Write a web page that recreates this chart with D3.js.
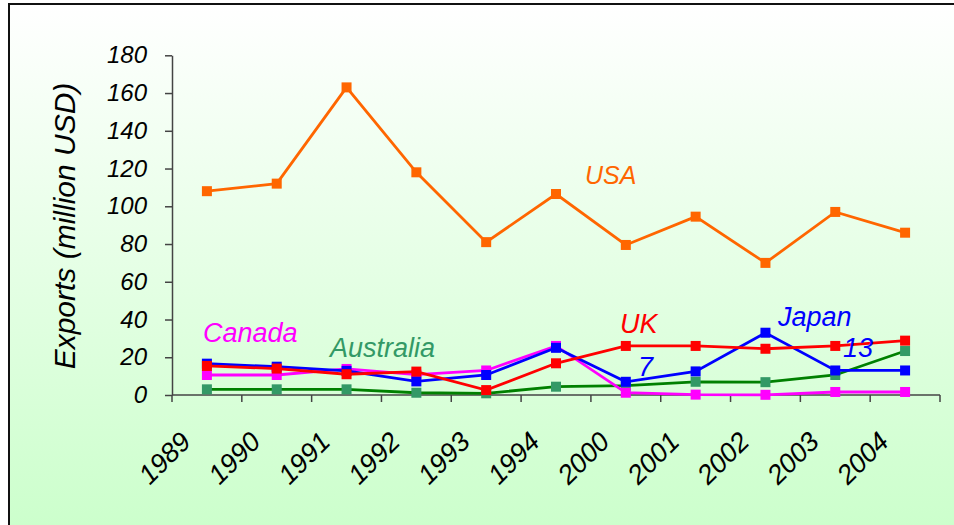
<!DOCTYPE html>
<html>
<head>
<meta charset="utf-8">
<script src="https://cdn.jsdelivr.net/npm/d3@7"></script>
<style>
  body { margin: 0; background: #fff; }
  text { font-family: "Liberation Sans", Arial, sans-serif; font-style: italic; }
</style>
</head>
<body>
<svg id="chart"></svg>
<script>
"use strict";

/*
*  DATA
*/

var years = ["1989", "1990", "1991", "1992", "1993", "1994", "2000", "2001", "2002", "2003", "2004"];
var yTicks = [0, 20, 40, 60, 80, 100, 120, 140, 160, 180];

var usa       = [108, 112, 163, 118, 81, 106.5, 79.5, 94.5, 70, 97, 86];
var uk        = [15.4, 14, 11, 12.4, 2.6, 16.8, 26, 26, 24.5, 26, 28.8];
var japan     = [16.6, 15, 12.8, 7.2, 10.6, 25, 7, 12.5, 33, 13, 13];
var canada    = [10.6, 10.6, 13.8, 10.8, 13, 26, 1.2, 0.2, 0.1, 1.6, 1.6];
var australia = [3, 3, 3, 1.2, 0.9, 4.4, 5, 7, 6.8, 10.6, 23.3];

var seriesNames = ["Australia", "Canada", "Japan", "UK", "USA"];
var seriesValues = [australia, canada, japan, uk, usa];
var lineColors = ["#008000", "#FF00FF", "#0000FF", "#FF0000", "#FF6600"];
var markColors = ["#339966", "#FF00FF", "#0000FF", "#FF0000", "#FF6600"];

// data labels shown on the Japan series
var japanLabelYears = ["2000", "2003"];

/*
*  DRAW
*/

var width = 954,
    height = 525;

var svg = d3.select("#chart").attr("width", width).attr("height", height);

var grad = svg.append("defs").append("linearGradient").attr("id", "bg")
  .attr("x1", 0).attr("y1", 0).attr("x2", 0).attr("y2", 1);
grad.append("stop").attr("offset", "0%").attr("stop-color", "#ffffff");
grad.append("stop").attr("offset", "100%").attr("stop-color", "#ccffcc");

svg.append("rect")
  .attr("x", 9).attr("y", 4).attr("width", width - 9).attr("height", height - 4)
  .attr("fill", "url(#bg)");

// frame, only top and left edges are inside the picture
svg.append("path")
  .attr("d", "M9," + height + "V4H" + width)
  .attr("fill", "none").attr("stroke", "#111").attr("stroke-width", 2);

var x = d3.scaleBand().domain(years).range([172, 940]);
var y = d3.scaleLinear().domain([0, 180]).range([395, 55.3]);

// Y AXIS
var yAxis = svg.append("g").attr("transform", "translate(172,0)")
  .call(d3.axisLeft(y).tickValues(yTicks).tickSize(7).tickSizeOuter(0).tickPadding(18));
yAxis.select(".domain").attr("stroke", "#444").attr("stroke-width", 1.5);
yAxis.selectAll(".tick line").attr("stroke", "#444").attr("stroke-width", 1.5);
yAxis.selectAll(".tick text")
  .attr("font-size", 24).attr("fill", "#000")
  .style("font-family", '"Liberation Sans", Arial, sans-serif');

// X AXIS (ticks at category boundaries)
var xg = svg.append("g");
xg.append("line")
  .attr("x1", 172).attr("x2", 940).attr("y1", y(0)).attr("y2", y(0))
  .attr("stroke", "#444").attr("stroke-width", 1.5);
var bounds = years.map(function (d) { return x(d); }).concat([x.range()[1]]);
xg.selectAll(".xt").data(bounds).enter().append("line")
  .attr("x1", function (d) { return d; }).attr("x2", function (d) { return d; })
  .attr("y1", y(0)).attr("y2", y(0) + 7)
  .attr("stroke", "#444").attr("stroke-width", 1.5);
xg.selectAll(".xl").data(years).enter().append("text")
  .attr("transform", function (d) {
    return "translate(" + (x(d) + x.bandwidth() / 2 - 28) + "," + (y(0) + 35) + ") rotate(-45)";
  })
  .attr("text-anchor", "end")
  .attr("dy", "0.7em")
  .attr("font-size", 27)
  .attr("fill", "#000")
  .text(function (d) { return d; });

// axis title
svg.append("text")
  .attr("transform", "translate(75,226) rotate(-90)")
  .attr("text-anchor", "middle")
  .attr("font-size", 30)
  .attr("fill", "#000")
  .text("Exports (million USD)");

// SERIES
var line = d3.line()
  .x(function (d, i) { return x(years[i]) + x.bandwidth() / 2; })
  .y(function (d) { return y(d); });

seriesValues.forEach(function (vals, s) {
  var g = svg.append("g").attr("class", "series");
  g.append("path")
    .attr("d", line(vals))
    .attr("fill", "none")
    .attr("stroke", lineColors[s])
    .attr("stroke-width", 2.8);
  g.selectAll("rect").data(vals).enter().append("rect")
    .attr("x", function (d, i) { return x(years[i]) + x.bandwidth() / 2 - 5; })
    .attr("y", function (d) { return y(d) - 5; })
    .attr("width", 10).attr("height", 10)
    .attr("fill", markColors[s]);
});

// SERIES LABELS
var labelPos = {
  "USA": [585, 184, 25],
  "UK": [620, 333, 27],
  "Japan": [778, 326, 27],
  "Canada": [203, 342, 27],
  "Australia": [330, 357, 27]
};
seriesNames.forEach(function (name, s) {
  var p = labelPos[name];
  svg.append("text")
    .attr("x", p[0]).attr("y", p[1])
    .attr("font-size", p[2])
    .attr("fill", markColors[s])
    .text(name);
});

// japan data labels
var dataLabelPos = [[638, 376], [843, 357]];
japanLabelYears.forEach(function (yr, i) {
  svg.append("text")
    .attr("x", dataLabelPos[i][0]).attr("y", dataLabelPos[i][1])
    .attr("font-size", 27)
    .attr("fill", "#0000FF")
    .text(Math.round(japan[years.indexOf(yr)]));
});
</script>
</body>
</html>
